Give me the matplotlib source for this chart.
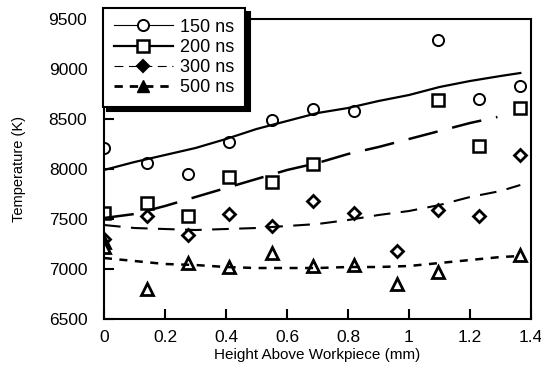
import numpy as np
import matplotlib
matplotlib.use('Agg')
from matplotlib import pyplot as plt

plt.rcParams['font.family'] = ['Liberation Sans', 'DejaVu Sans']

# measured temperatures (K) vs height above workpiece (mm)
x150 = [0, 0.14, 0.275, 0.41, 0.55, 0.685, 0.82, 1.095, 1.23, 1.365]
T150 = [8210, 8060, 7950, 8270, 8490, 8600, 8580, 9290, 8700, 8830]

x200 = [0, 0.14, 0.275, 0.41, 0.55, 0.685, 1.095, 1.23, 1.365]
T200 = [7560, 7660, 7530, 7920, 7870, 8050, 8690, 8230, 8610]

x300 = [0, 0.14, 0.275, 0.41, 0.55, 0.685, 0.82, 0.96, 1.095, 1.23, 1.365]
T300 = [7300, 7530, 7340, 7550, 7430, 7680, 7560, 7180, 7590, 7530, 8140]

x500 = [0, 0, 0.14, 0.275, 0.41, 0.55, 0.685, 0.82, 0.96, 1.095, 1.365]
T500 = [7270, 7220, 6800, 7060, 7020, 7160, 7030, 7040, 6850, 6970, 7140]

# fitted curves
xf150 = [0, 0.1, 0.2, 0.3, 0.4, 0.5, 0.6, 0.7, 0.8, 0.9, 1.0, 1.1, 1.2, 1.3, 1.365]
Tf150 = [7990, 8070, 8140, 8210, 8300, 8400, 8480, 8560, 8610, 8680, 8740, 8820, 8880, 8930, 8960]

xf200 = [0, 0.1, 0.2, 0.3, 0.4, 0.5, 0.6, 0.7, 0.8, 0.9, 1.0, 1.1, 1.2, 1.29]
Tf200 = [7510, 7550, 7630, 7720, 7810, 7900, 7990, 8060, 8150, 8220, 8300, 8380, 8460, 8520]

xf300 = [0, 0.1, 0.2, 0.3, 0.4, 0.5, 0.6, 0.7, 0.8, 0.9, 1.0, 1.1, 1.2, 1.3, 1.365]
Tf300 = [7440, 7410, 7400, 7390, 7400, 7410, 7430, 7450, 7490, 7540, 7580, 7640, 7720, 7780, 7840]

xf500 = [0, 0.1, 0.2, 0.3, 0.4, 0.5, 0.6, 0.7, 0.8, 0.9, 1.0, 1.1, 1.2, 1.3, 1.365]
Tf500 = [7110, 7080, 7050, 7040, 7020, 7010, 7010, 7010, 7020, 7020, 7030, 7060, 7090, 7120, 7130]

fig = plt.figure(figsize=(5.41, 3.75), dpi=100)
ax = fig.add_axes([0.1922, 0.1493, 0.7893, 0.8])

mk = dict(color='black', markerfacecolor='white', markeredgecolor='black', linestyle='none')
ax.plot(x150, T150, marker='o', markersize=8, markeredgewidth=1.4, **mk)
ax.plot(x200, T200, marker='s', markersize=8, markeredgewidth=1.8, **mk)
ax.plot(x300, T300, marker='D', markersize=6, markeredgewidth=2.0, **mk)
ax.plot(x500, T500, marker='^', markersize=8, markeredgewidth=2.0, **mk)

ax.plot(xf150, Tf150, '-', color='black', linewidth=1.6)
ax.plot(xf200, Tf200, color='black', linewidth=1.8, linestyle=(0, (12, 6)))
ax.plot(xf300, Tf300, color='black', linewidth=1.5, linestyle=(0, (8, 5)))
ax.plot(xf500, Tf500, color='black', linewidth=1.8, linestyle=(0, (3.2, 3)))

# legend entries
h1, = ax.plot([], [], '-', color='black', linewidth=0.8, marker='o', markersize=8,
              markerfacecolor='white', markeredgecolor='black', markeredgewidth=1.4)
h2, = ax.plot([], [], '-', color='black', linewidth=1.6, marker='s', markersize=8,
              markerfacecolor='white', markeredgecolor='black', markeredgewidth=1.8)
h3, = ax.plot([], [], color='black', linewidth=0.8, linestyle=(0, (8, 5)), marker='D', markersize=6,
              markerfacecolor='black', markeredgecolor='black', markeredgewidth=1.5)
h4, = ax.plot([], [], color='black', linewidth=2.0, linestyle=(0, (3, 2.5)), marker='^', markersize=8,
              markerfacecolor='black', markeredgecolor='black')
leg = ax.legend([h1, h2, h3, h4], ['150 ns', '200 ns', '300 ns', '500 ns'],
                loc='upper left', bbox_to_anchor=(-0.003, 1.037), borderaxespad=0,
                fontsize=13, handlelength=3.3, handletextpad=0.4, labelspacing=0.18,
                borderpad=0.6, fancybox=False, framealpha=1, edgecolor='black',
                shadow={'color': 'black', 'alpha': 1, 'ox': 3, 'oy': -3})
leg.get_frame().set_linewidth(1.5)

ax.set_xlim(0, 1.4)
ax.set_ylim(6500, 9500)
ax.set_xticks(np.arange(0, 1.41, 0.2))
ax.set_xticklabels(['0', '0.2', '0.4', '0.6', '0.8', '1', '1.2', '1.4'])
ax.set_yticks(np.arange(6500, 9501, 500))
ax.tick_params(direction='in', length=7, width=1.5, labelsize=12.5, pad=8)
ax.tick_params(axis='y', pad=12)
for s in ax.spines.values():
    s.set_linewidth(1.5)

ax.set_xlabel('Height Above Workpiece (mm)', fontsize=11, labelpad=2)
ax.set_ylabel('Temperature (K)', fontsize=10.5, labelpad=16)

plt.savefig('out.png', dpi=100)
